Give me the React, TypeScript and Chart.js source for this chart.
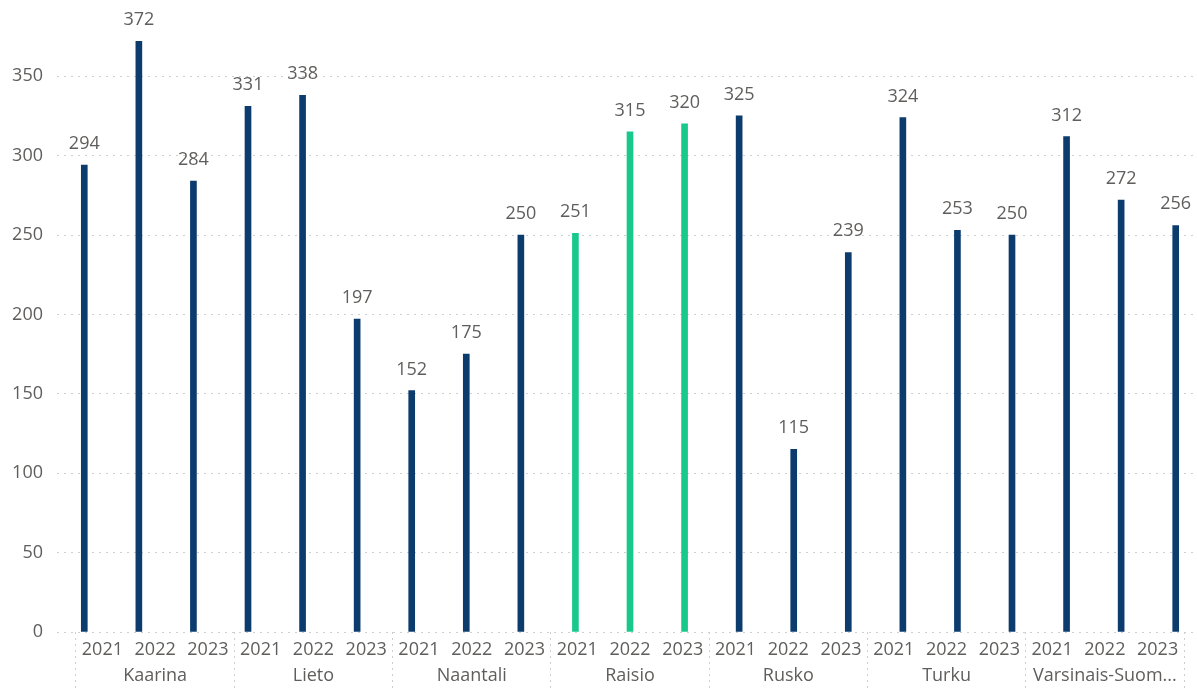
import React, { useEffect, useRef } from 'react';
import { Chart, registerables } from 'chart.js';

Chart.register(...registerables);

const municipalities = ['Kaarina', 'Lieto', 'Naantali', 'Raisio', 'Rusko', 'Turku', 'Varsinais-Suom...'];
const years = ['2021', '2022', '2023'];

const kaarina = [294, 372, 284];
const lieto = [331, 338, 197];
const naantali = [152, 175, 250];
const raisio = [251, 315, 320];
const rusko = [325, 115, 239];
const turku = [324, 253, 250];
const varsinaisSuomi = [312, 272, 256];

const seriesByMunicipality = [kaarina, lieto, naantali, raisio, rusko, turku, varsinaisSuomi];
const highlighted = 'Raisio';

const yTickValues = [0, 50, 100, 150, 200, 250, 300, 350];
const Y_MAX = 398;

const NAVY = '#0C3B6E';
const GREEN = '#19C98C';
const TEXT = '#605E5C';
const GRID = '#CFCFCF';
const FONT = "'Segoe UI', 'Open Sans', sans-serif";

const labels: string[] = [];
const values: number[] = [];
const colors: string[] = [];
municipalities.forEach((m, gi) => {
  years.forEach((y, yi) => {
    labels.push(y);
    values.push(seriesByMunicipality[gi][yi]);
    colors.push(m === highlighted ? GREEN : NAVY);
  });
});

const dataLabels = {
  id: 'dataLabels',
  afterDatasetsDraw(chart: any) {
    const { ctx } = chart;
    const meta = chart.getDatasetMeta(0);
    const data = chart.data.datasets[0].data;
    ctx.save();
    ctx.font = `18px ${FONT}`;
    ctx.fillStyle = TEXT;
    ctx.textAlign = 'center';
    ctx.textBaseline = 'alphabetic';
    meta.data.forEach((el: any, i: number) => {
      ctx.fillText(String(data[i]), el.x, el.y - 16);
    });
    ctx.restore();
  },
};

export default function App() {
  const ref = useRef<HTMLCanvasElement>(null);

  useEffect(() => {
    if (!ref.current) return;
    const nSlots = municipalities.length * years.length;
    const chart = new Chart(ref.current, {
      type: 'bar',
      data: {
        labels,
        datasets: [
          {
            data: values,
            backgroundColor: colors,
            barThickness: 6,
            xAxisID: 'x',
            yAxisID: 'y',
          },
        ],
      },
      plugins: [dataLabels],
      options: {
        animation: false,
        responsive: false,
        layout: { padding: 0 },
        plugins: { legend: { display: false }, tooltip: { enabled: false } },
        scales: {
          x: { type: 'category', display: false, offset: true },
          xl: {
            type: 'linear',
            position: 'bottom',
            bounds: 'data',
            offset: false,
            min: -0.36,
            max: nSlots + 0.36,
            afterBuildTicks: (scale: any) => {
              const t: { value: number }[] = [];
              for (let k = 0; k < nSlots; k++) {
                if (k % years.length === 0) t.push({ value: k });
                t.push({ value: k + 0.5 });
              }
              t.push({ value: nSlots });
              scale.ticks = t;
            },
            afterFit: (scale: any) => {
              scale.height = 58;
              scale.paddingLeft = 0;
              scale.paddingRight = 0;
            },
            border: { display: false },
            grid: {
              offset: false,
              drawOnChartArea: false,
              drawTicks: true,
              tickLength: 58,
              tickBorderDash: [2, 4],
              lineWidth: 1,
              color: (ctx: any) =>
                ctx.tick && Number.isInteger(ctx.tick.value) ? GRID : 'rgba(0,0,0,0)',
            },
            ticks: {
              autoSkip: false,
              maxRotation: 0,
              minRotation: 0,
              padding: -53,
              color: TEXT,
              font: { family: FONT, size: 18, lineHeight: 1.45 },
              callback: (value: any) => {
                const v = Number(value);
                const k = Math.floor(v);
                if (v - k !== 0.5) return '';
                const yi = k % years.length;
                const gi = Math.floor(k / years.length);
                return [years[yi], yi === 1 ? municipalities[gi] : ''];
              },
            },
          },
          y: {
            min: 0,
            max: Y_MAX,
            afterBuildTicks: (scale: any) => {
              scale.ticks = yTickValues.map((v) => ({ value: v }));
            },
            afterFit: (scale: any) => {
              scale.width = 57;
              scale.paddingTop = 0;
              scale.paddingBottom = 0;
            },
            border: { display: false, dash: [2, 5] },
            grid: { color: GRID, drawTicks: false, lineWidth: 1 },
            ticks: {
              padding: 14,
              color: TEXT,
              font: { family: FONT, size: 18 },
            },
          },
        },
      },
    } as any);
    return () => chart.destroy();
  }, []);

  return (
    <div
      style={{
        position: 'fixed',
        left: 0,
        top: 0,
        width: 1197,
        height: 690,
        overflow: 'hidden',
        background: '#fff',
      }}
    >
      <canvas ref={ref} width={1203} height={690} style={{ display: 'block' }} />
    </div>
  );
}
